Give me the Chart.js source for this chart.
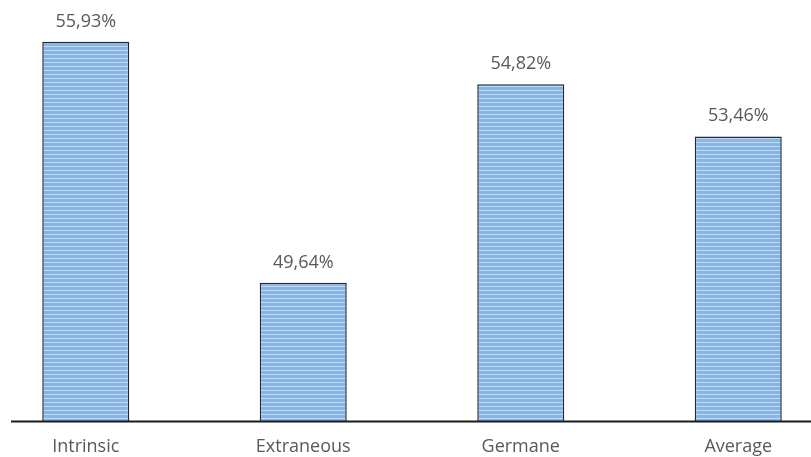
<!DOCTYPE html>
<html>
<head>
<meta charset="utf-8">
<script src="https://cdn.jsdelivr.net/npm/chart.js@4"></script>
<style>
  html, body { margin: 0; padding: 0; background: #fff; overflow: hidden; }
  body { width: 811px; height: 457px; position: relative; }
  #wrap { position: absolute; left: -23px; top: 0; width: 870px; height: 473px; }
</style>
</head>
<body>
<div id="wrap"><canvas id="load-chart"></canvas></div>
<script>
const categories = ["Intrinsic", "Extraneous", "Germane", "Average"];
const values = [55.93, 49.64, 54.82, 53.46];
const valueLabels = ["55,93%", "49,64%", "54,82%", "53,46%"];

const ctx = document.getElementById("load-chart");
const textGrey = "#595959";
const fontFamily = "'Open Sans', sans-serif";

// striped fill for the bars
function makeStripes() {
  const c = document.createElement("canvas");
  c.width = 8;
  c.height = 4;
  const g = c.getContext("2d");
  g.fillStyle = "#88b5e6";
  g.fillRect(0, 0, 8, 4);
  g.fillStyle = "#c2dbf5";
  g.fillRect(0, 2, 8, 1);
  return g.createPattern(c, "repeat");
}

// value text above each bar
const valueText = {
  id: "valueText",
  afterDatasetsDraw(chart) {
    const g = chart.ctx;
    const meta = chart.getDatasetMeta(0);
    g.save();
    g.font = "18px " + fontFamily;
    g.fillStyle = textGrey;
    g.textAlign = "center";
    g.textBaseline = "alphabetic";
    meta.data.forEach((bar, i) => {
      g.fillText(valueLabels[i], bar.x, bar.y - 15);
    });
    g.restore();
  },
};

// baseline under the bars
const baseline = {
  id: "baseline",
  afterDatasetsDraw(chart) {
    const g = chart.ctx;
    const area = chart.chartArea;
    g.save();
    g.strokeStyle = "#1a1a1a";
    g.lineWidth = 2;
    g.beginPath();
    g.moveTo(area.left + 34, area.bottom);
    g.lineTo(area.right, area.bottom);
    g.stroke();
    g.restore();
  },
};

new Chart(ctx, {
  type: "bar",
  data: {
    labels: categories,
    datasets: [
      {
        data: values,
        backgroundColor: makeStripes(),
        borderColor: "#1f2b3c",
        borderWidth: 1.5,
        borderSkipped: "bottom",
        barPercentage: 0.4,
        categoryPercentage: 1,
      },
    ],
  },
  options: {
    responsive: true,
    maintainAspectRatio: false,
    animation: false,
    layout: { padding: 0 },
    plugins: {
      legend: { display: false },
      tooltip: { enabled: false },
    },
    scales: {
      x: {
        grid: { display: false, drawTicks: false },
        border: { display: false },
        ticks: {
          color: textGrey,
          font: { family: fontFamily, size: 18 },
          padding: 15,
        },
      },
      y: {
        display: false,
        min: 46.02,
        max: 57.02,
      },
    },
  },
  plugins: [valueText, baseline],
});
</script>
</body>
</html>
